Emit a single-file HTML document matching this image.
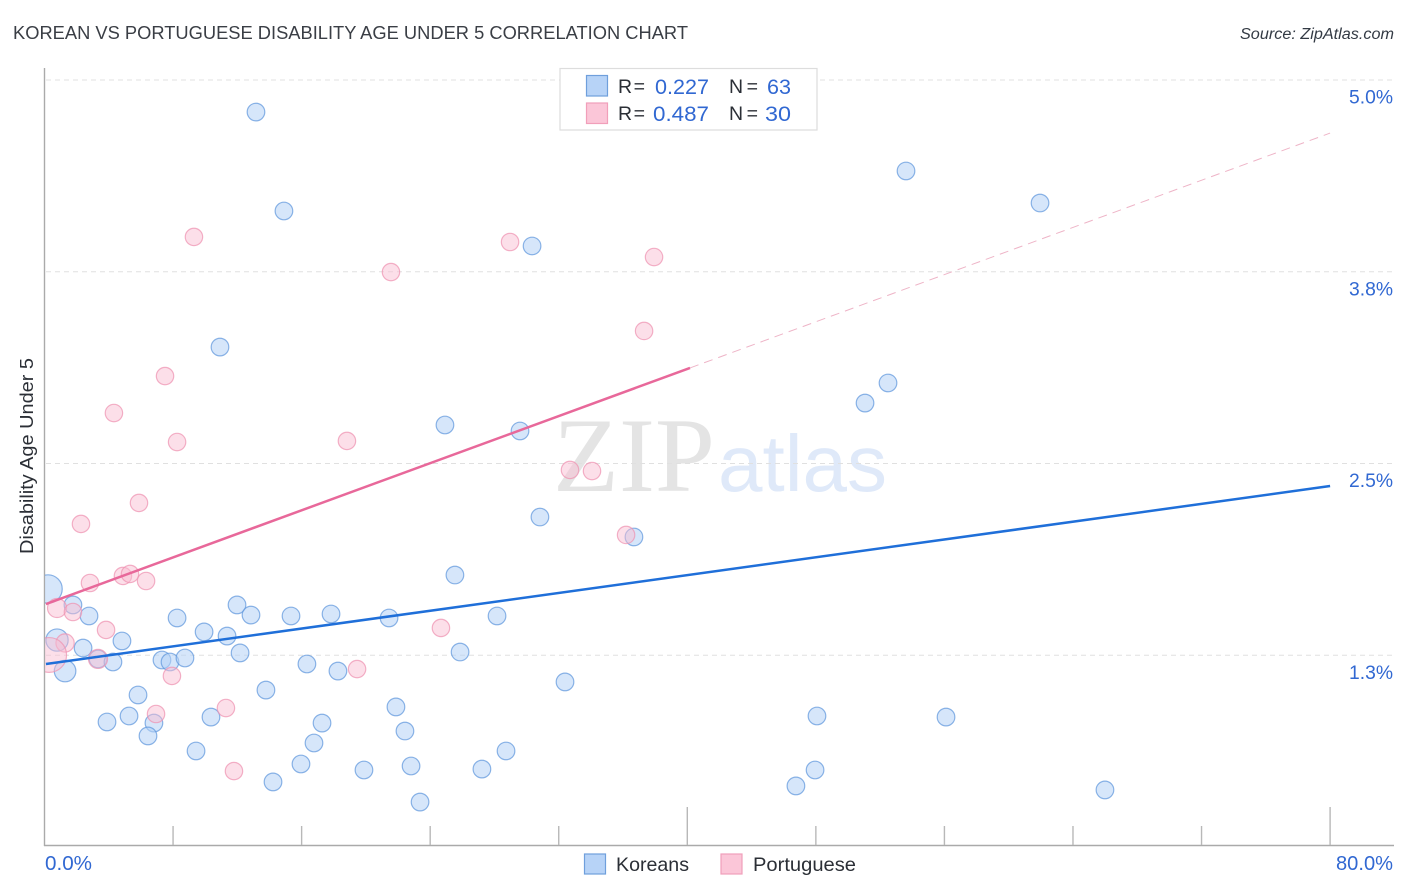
<!DOCTYPE html>
<html lang="en">
<head>
<meta charset="utf-8">
<title>Korean vs Portuguese Disability Age Under 5 Correlation Chart</title>
<style>
  html, body { margin: 0; padding: 0; background: #fff; }
  body { width: 1406px; height: 892px; overflow: hidden; }
  svg { display: block; font-family: "Liberation Sans", sans-serif; }
</style>
</head>
<body>
<svg id="chart" width="1406" height="892" viewBox="0 0 1406 892" xmlns="http://www.w3.org/2000/svg">
  <defs>
    <clipPath id="plot-clip"><rect x="45" y="60" width="1349" height="785"/></clipPath>
  </defs>
  <rect width="1406" height="892" fill="#ffffff"/>

  <text x="13" y="39" font-size="18.5" fill="#3a3e45" textLength="675" lengthAdjust="spacingAndGlyphs">KOREAN VS PORTUGUESE DISABILITY AGE UNDER 5 CORRELATION CHART</text>
  <text x="1394" y="39" font-size="15.5" font-style="italic" fill="#333a44" text-anchor="end" textLength="154" lengthAdjust="spacingAndGlyphs">Source: ZipAtlas.com</text>

  <g>
    <text x="553" y="491" font-family="'Liberation Serif', serif" font-size="106" fill="#e4e4e4" textLength="162" lengthAdjust="spacingAndGlyphs">ZIP</text>
    <text x="718" y="491" font-size="80" fill="#dfe9f9" textLength="169" lengthAdjust="spacingAndGlyphs">atlas</text>
  </g>

  <g id="grid"></g>
  <g id="axes"></g>
  <g id="points-korean" clip-path="url(#plot-clip)"></g>
  <g id="points-portuguese" clip-path="url(#plot-clip)"></g>
  <g id="trends"></g>
  <g id="tick-labels"></g>

  <text transform="translate(33,456) rotate(-90)" font-size="18" fill="#2b2f36" text-anchor="middle" textLength="196" lengthAdjust="spacingAndGlyphs">Disability Age Under 5</text>

  <g>
    <rect x="560" y="68.5" width="257" height="61.5" fill="#ffffff" stroke="#dddddd" stroke-width="1.2"/>
    <rect x="586.5" y="75.5" width="21" height="20.5" fill="#b7d3f7" stroke="#6f9fdc" stroke-width="1.2"/>
    <rect x="586.5" y="103" width="21" height="20.5" fill="#fbc6d8" stroke="#f19fba" stroke-width="1.2"/>
    <text x="618" y="93" font-size="19.5" fill="#2b2f36" textLength="27" lengthAdjust="spacing">R =</text>
    <text x="709" y="94" font-size="21.5" fill="#3168d2" text-anchor="end" textLength="54" lengthAdjust="spacingAndGlyphs">0.227</text>
    <text x="729" y="93" font-size="19.5" fill="#2b2f36" textLength="29" lengthAdjust="spacing">N =</text>
    <text x="791" y="94" font-size="21.5" fill="#3168d2" text-anchor="end" textLength="24" lengthAdjust="spacingAndGlyphs">63</text>
    <text x="618" y="120" font-size="19.5" fill="#2b2f36" textLength="27" lengthAdjust="spacing">R =</text>
    <text x="709" y="121" font-size="21.5" fill="#3168d2" text-anchor="end" textLength="56" lengthAdjust="spacingAndGlyphs">0.487</text>
    <text x="729" y="120" font-size="19.5" fill="#2b2f36" textLength="29" lengthAdjust="spacing">N =</text>
    <text x="791" y="121" font-size="21.5" fill="#3168d2" text-anchor="end" textLength="26" lengthAdjust="spacingAndGlyphs">30</text>
  </g>

  <g>
    <g>
      <rect x="584.5" y="854" width="21" height="20" fill="#b7d3f7" stroke="#6f9fdc" stroke-width="1.2"/>
      <text x="616" y="871" font-size="19.5" fill="#2b2f36" textLength="73" lengthAdjust="spacingAndGlyphs">Koreans</text>
    </g>
    <g>
      <rect x="721" y="854" width="21" height="20" fill="#fbc6d8" stroke="#f19fba" stroke-width="1.2"/>
      <text x="753" y="871" font-size="19.5" fill="#2b2f36" textLength="103" lengthAdjust="spacingAndGlyphs">Portuguese</text>
    </g>
  </g>
</svg>

<script>
// Percent values
const koreanX = [13.16,14.90,10.92,53.61,61.95,30.34,52.49,51.06,24.92,29.59,30.83,36.68,25.54,0.22,1.77,2.77,8.25,11.98,12.85,15.34,17.83,21.44,28.16,9.93,11.36,0.78,2.40,4.82,3.33,4.26,7.31,7.81,8.74,12.17,16.33,18.26,25.86,1.28,32.39,5.82,13.78,21.87,3.89,5.26,6.81,10.36,17.27,48.07,56.10,6.44,22.43,9.43,16.77,28.72,15.96,19.88,22.81,27.22,47.95,14.22,46.76,65.99,23.37];
const koreanY = [4.791,4.146,3.259,4.407,4.198,3.918,3.025,2.894,2.751,2.712,2.151,2.021,1.773,1.682,1.578,1.506,1.493,1.578,1.512,1.506,1.519,1.493,1.506,1.402,1.375,1.349,1.297,1.343,1.226,1.206,1.219,1.206,1.232,1.265,1.193,1.147,1.271,1.147,1.076,0.991,1.023,0.913,0.815,0.854,0.808,0.847,0.808,0.854,0.847,0.724,0.756,0.626,0.678,0.626,0.541,0.502,0.528,0.508,0.502,0.424,0.398,0.372,0.293];
const koreanWeight = [1,1,1,1,1,1,1,1,1,1,1,1,1,2.6,1,1,1,1,1,1,1,1,1,1,1,1.6,1,1,1,1,1,1,1,1,1,1,1,1.5,1,1,1,1,1,1,1,1,1,1,1,1,1,1,1,1,1,1,1,1,1,1,1,1,1];

const portugueseX = [9.30,28.97,21.56,37.93,37.31,7.50,4.32,8.25,18.82,32.70,34.07,5.88,2.27,36.19,2.83,4.88,5.32,6.32,0.78,1.77,3.83,24.67,1.28,0.29,3.33,19.45,7.93,11.29,6.94,11.79];
const portugueseY = [3.977,3.944,3.748,3.846,3.364,3.070,2.829,2.640,2.647,2.458,2.451,2.243,2.106,2.034,1.721,1.767,1.780,1.734,1.558,1.532,1.415,1.428,1.330,1.252,1.226,1.160,1.115,0.906,0.867,0.495];
const portugueseWeight = [1,1,1,1,1,1,1,1,1,1,1,1,1,1,1,1,1,1,1.2,1,1,1,1.1,4,1.2,1,1,1,1,1];

const koreanTrendX = [0.09, 80];
const koreanTrendY = [1.193, 2.353];
const portugueseTrendX = [0.09, 40.17];
const portugueseTrendY = [1.584, 3.123];
const portugueseExtensionX = [40.17, 80];
const portugueseExtensionY = [3.123, 4.654];

const gridValues = [5.0, 3.75, 2.5, 1.25];
const yTickLabels = ["5.0%", "3.8%", "2.5%", "1.3%"];
const xTickValues = [8, 16, 24, 32, 40, 48, 56, 64, 72, 80];
const xMajorTicks = [40, 80];
const xTickLabels = ["0.0%", "80.0%"];

function xScale(v) { return 44.5 + v * 16.07; }
function yScale(v) { return 80 + (5 - v) * 153.4; }
function radius(w, base) { return base * Math.sqrt(w); }

const NS = "http://www.w3.org/2000/svg";
function make(tag, parentId, attrs) {
  const el = document.createElementNS(NS, tag);
  for (const k in attrs) el.setAttribute(k, attrs[k]);
  document.getElementById(parentId).appendChild(el);
  return el;
}

// Gridlines
gridValues.forEach(function (v) {
  const el = make("line", "grid", { x1: 46, x2: 1393, y1: yScale(v), y2: yScale(v), stroke: "#e0e0e0", "stroke-width": 1, "stroke-dasharray": "5 4" });
  
  
});

// Axes
const yAxisLine = make("line", "axes", { x1: 44.5, x2: 44.5, y1: 68, y2: 846, stroke: "#aaaaaa", "stroke-width": 1.4 });


const xAxisLine = make("line", "axes", { x1: 44, x2: 1394, y1: 845.5, y2: 845.5, stroke: "#aaaaaa", "stroke-width": 1.4 });


xTickValues.forEach(function (v) {
  const top = xMajorTicks.indexOf(v) >= 0 ? 807 : 826;
  const el = make("line", "axes", { x1: xScale(v), x2: xScale(v), y1: top, y2: 845, stroke: "#b8b8b8", "stroke-width": 1.4 });
  
  
});

// Points
koreanX.forEach(function (x, i) {
  const el = make("circle", "points-korean", { cx: xScale(x), cy: yScale(koreanY[i]), r: radius(koreanWeight[i], 8.8), fill: "#b5d1f5", "fill-opacity": 0.55, stroke: "#5f97dc", "stroke-opacity": 0.72, "stroke-width": 1.2 });
  
  
});
portugueseX.forEach(function (x, i) {
  const el = make("circle", "points-portuguese", { cx: xScale(x), cy: yScale(portugueseY[i]), r: radius(portugueseWeight[i], 8.7), fill: "#f9bdd0", "fill-opacity": 0.48, stroke: "#ee93b1", "stroke-opacity": 0.72, "stroke-width": 1.2 });
  
  
});

// Trend lines
const koreanTrend = make("line", "trends", { x1: xScale(koreanTrendX[0]), y1: yScale(koreanTrendY[0]), x2: xScale(koreanTrendX[1]), y2: yScale(koreanTrendY[1]), stroke: "#1f6fd9", "stroke-width": 2.5 });


const portugueseTrend = make("line", "trends", { x1: xScale(portugueseTrendX[0]), y1: yScale(portugueseTrendY[0]), x2: xScale(portugueseTrendX[1]), y2: yScale(portugueseTrendY[1]), stroke: "#e8689a", "stroke-width": 2.5 });


const portugueseExtension = make("line", "trends", { x1: xScale(portugueseExtensionX[0]), y1: yScale(portugueseExtensionY[0]), x2: xScale(portugueseExtensionX[1]), y2: yScale(portugueseExtensionY[1]), stroke: "#eeb4c7", "stroke-width": 1, "stroke-dasharray": "9 6" });



// Tick labels
yTickLabels.forEach(function (label, i) {
  const el = make("text", "tick-labels", { x: 1393, y: yScale(gridValues[i]) + 23.5, "font-size": 19.5, fill: "#3168d2", "text-anchor": "end", textLength: 44, lengthAdjust: "spacingAndGlyphs" });
  el.textContent = label;
  
  
});
const xLabelStart = make("text", "tick-labels", { x: 45, y: 870, "font-size": 20, fill: "#3168d2", textLength: 47, lengthAdjust: "spacingAndGlyphs" });
xLabelStart.textContent = xTickLabels[0];


const xLabelEnd = make("text", "tick-labels", { x: 1393, y: 870, "font-size": 20, fill: "#3168d2", "text-anchor": "end", textLength: 57, lengthAdjust: "spacingAndGlyphs" });
xLabelEnd.textContent = xTickLabels[1];


</script>
</body>
</html>
